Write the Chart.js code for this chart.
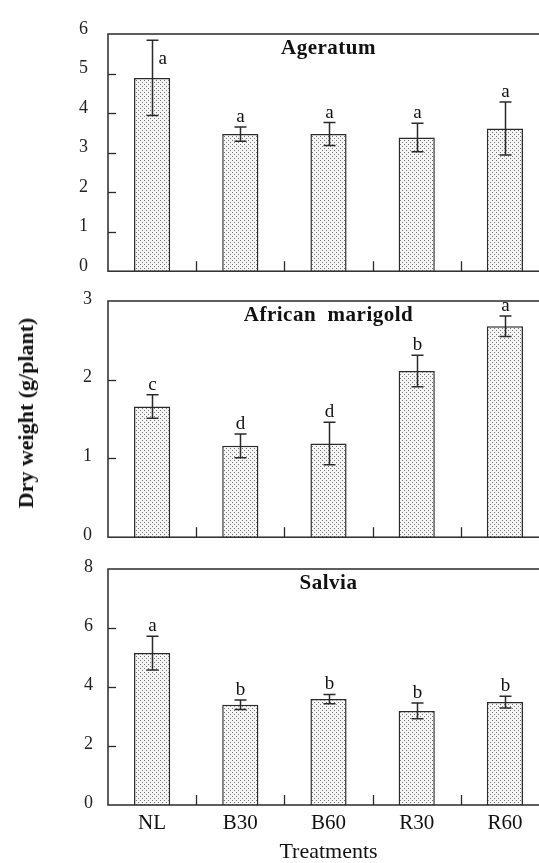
<!DOCTYPE html>
<html>
<head>
<meta charset="utf-8">
<script src="https://cdn.jsdelivr.net/npm/chart.js@4.4.0/dist/chart.umd.min.js"></script>
<style>
html, body { margin: 0; padding: 0; background: #fff; overflow: hidden; width: 539px; height: 863px; }
#wrap { position: relative; width: 539px; height: 863px; overflow: hidden; }
#wrap canvas { position: absolute; left: 0; }
#ylab {
    position: absolute; left: 26px; top: 413px;
    transform: translate(-50%, -50%) rotate(-90deg);
    font: bold 22px "Liberation Serif", "Times New Roman", serif;
    white-space: nowrap; color: #111;
}
</style>
</head>
<body>
<div id="wrap">
    <canvas id="c1" width="560" height="302" style="top:0px;width:560px;height:302px"></canvas>
    <canvas id="c2" width="560" height="294" style="top:270px;width:560px;height:294px"></canvas>
    <canvas id="c3" width="560" height="323" style="top:540px;width:560px;height:323px"></canvas>
    <div id="ylab">Dry weight (g/plant)</div>
</div>
<script>
// ===== 数据 =====
const treatments = ['NL', 'B30', 'B60', 'R30', 'R60'];

const ageratumMean = [4.89, 3.47, 3.47, 3.38, 3.61];
const ageratumErr = [0.95, 0.18, 0.29, 0.36, 0.67];
const ageratumLetters = ['a', 'a', 'a', 'a', 'a'];

const marigoldMean = [1.66, 1.16, 1.19, 2.11, 2.68];
const marigoldErr = [0.15, 0.15, 0.27, 0.20, 0.13];
const marigoldLetters = ['c', 'd', 'd', 'b', 'a'];

const salviaMean = [5.15, 3.40, 3.59, 3.19, 3.49];
const salviaErr = [0.57, 0.16, 0.16, 0.27, 0.20];
const salviaLetters = ['a', 'b', 'b', 'b', 'b'];

const serif = '"Liberation Serif", "Times New Roman", serif';
const ink = '#2a2a2a';

// 点状填充
function makeDots() {
    const c = document.createElement('canvas');
    c.width = 4; c.height = 4;
    const g = c.getContext('2d');
    g.fillStyle = '#f6f6f6';
    g.fillRect(0, 0, 4, 4);
    g.fillStyle = '#707070';
    g.fillRect(0, 0, 1, 1);
    g.fillRect(2, 2, 1, 1);
    return g.createPattern(c, 'repeat');
}
const dots = makeDots();

// 边框、内刻度、误差线、字母、标题
const panelDecor = {
    id: 'panelDecor',
    afterDatasetsDraw(chart, args, opts) {
        const { ctx, chartArea: a, scales: { x, y } } = chart;
        ctx.save();
        ctx.strokeStyle = ink;
        ctx.lineWidth = 1.5;
        ctx.strokeRect(a.left, a.top, a.right - a.left, a.bottom - a.top);

        ctx.lineWidth = 1.3;
        y.ticks.forEach(t => {
            if (t.value <= y.min || t.value >= y.max) return;
            const py = Math.round(y.getPixelForValue(t.value)) + 0.5;
            ctx.beginPath();
            ctx.moveTo(a.left, py);
            ctx.lineTo(a.left + 8, py);
            ctx.stroke();
        });
        for (let i = 1; i < treatments.length; i++) {
            const px = Math.round((x.getPixelForValue(i - 1) + x.getPixelForValue(i)) / 2) + 0.5;
            ctx.beginPath();
            ctx.moveTo(px, a.bottom);
            ctx.lineTo(px, a.bottom - 10);
            ctx.stroke();
        }

        const meta = chart.getDatasetMeta(0);
        const mean = chart.data.datasets[0].data;
        ctx.lineWidth = 1.5;
        ctx.fillStyle = '#111';
        ctx.font = '19px ' + serif;
        meta.data.forEach((bar, i) => {
            const cx = Math.round(bar.x) + 0.5;
            const top = y.getPixelForValue(mean[i] + opts.err[i]);
            const bot = y.getPixelForValue(mean[i] - opts.err[i]);
            ctx.beginPath();
            ctx.moveTo(cx, top); ctx.lineTo(cx, bot);
            ctx.moveTo(cx - 6, top); ctx.lineTo(cx + 6, top);
            ctx.moveTo(cx - 6, bot); ctx.lineTo(cx + 6, bot);
            ctx.stroke();

            if (opts.beside === i) {
                ctx.textAlign = 'left';
                ctx.textBaseline = 'middle';
                ctx.fillText(opts.letters[i], cx + 6, (top + bar.y) / 2);
            } else {
                ctx.textAlign = 'center';
                ctx.textBaseline = 'alphabetic';
                ctx.fillText(opts.letters[i], cx, top - 5);
            }
        });

        ctx.font = 'bold 21px ' + serif;
        ctx.letterSpacing = '0.5px';
        ctx.textAlign = 'center';
        ctx.textBaseline = 'middle';
        ctx.fillText(opts.title, (a.left + a.right) / 2, a.top + 15);
        ctx.restore();
    }
};

function createPanel(id, p) {
    const xScale = {
        display: p.showX,
        grid: { display: false, drawTicks: false },
        border: { display: false },
        ticks: { font: { family: serif, size: 21 }, color: '#111', padding: 6 },
        title: {
            display: p.showX,
            text: 'Treatments',
            font: { family: serif, size: 22, lineHeight: 1 },
            color: '#111',
            padding: { top: 0, bottom: 0 }
        }
    };
    if (p.showX) {
        xScale.afterFit = s => { s.height = 58; };
    }
    return new Chart(document.getElementById(id), {
        type: 'bar',
        data: {
            labels: treatments,
            datasets: [{
                data: p.mean,
                backgroundColor: dots,
                borderColor: ink,
                borderWidth: 1.5,
                barPercentage: 0.41,
                categoryPercentage: 1
            }]
        },
        options: {
            responsive: false,
            animation: false,
            layout: { padding: { top: p.padTop, bottom: p.padBottom, left: 0, right: 11 } },
            plugins: {
                legend: { display: false },
                tooltip: { enabled: false },
                panelDecor: { err: p.err, letters: p.letters, title: p.title, beside: p.beside }
            },
            scales: {
                x: xScale,
                y: {
                    min: 0,
                    max: p.max,
                    ticks: {
                        stepSize: p.step,
                        font: { family: serif, size: 18 },
                        color: '#222',
                        padding: p.tickPad,
                        labelOffset: p.labelOffset
                    },
                    grid: { display: false, drawTicks: false },
                    border: { display: false },
                    afterFit: s => { s.width = 108; }
                }
            }
        },
        plugins: [panelDecor]
    });
}

createPanel('c1', {
    mean: ageratumMean, err: ageratumErr, letters: ageratumLetters, title: 'Ageratum',
    max: 6, step: 1, padTop: 34, padBottom: 19, tickPad: 20, labelOffset: -5, beside: 0, showX: false
});
createPanel('c2', {
    mean: marigoldMean, err: marigoldErr, letters: marigoldLetters, title: 'African  marigold',
    max: 3, step: 1, padTop: 31, padBottom: 23, tickPad: 16, labelOffset: -2, beside: -1, showX: false
});
createPanel('c3', {
    mean: salviaMean, err: salviaErr, letters: salviaLetters, title: 'Salvia',
    max: 8, step: 2, padTop: 29, padBottom: 0, tickPad: 15, labelOffset: -2, beside: -1, showX: true
});
</script>
</body>
</html>
